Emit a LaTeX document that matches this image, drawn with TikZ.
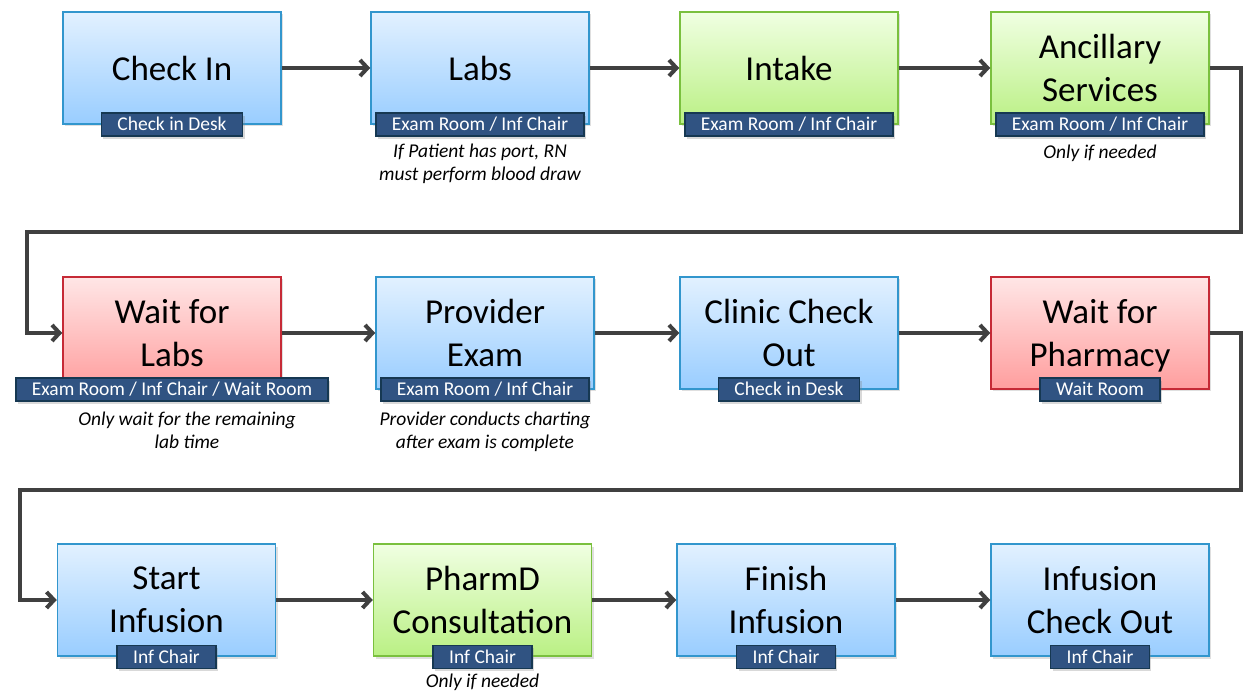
\documentclass[tikz,border=0pt]{standalone}
\usepackage{fontspec}
\setmainfont{Carlito}
\usetikzlibrary{arrows.meta,shadows,positioning,calc}
\definecolor{bluetop}{RGB}{226,241,255}
\definecolor{bluebot}{RGB}{153,205,255}
\definecolor{blueline}{RGB}{50,150,205}
\definecolor{greentop}{RGB}{240,255,226}
\definecolor{greenbot}{RGB}{186,240,132}
\definecolor{greenline}{RGB}{122,192,62}
\definecolor{redtop}{RGB}{255,230,230}
\definecolor{redbot}{RGB}{255,158,158}
\definecolor{redline}{RGB}{198,42,54}
\definecolor{tagfill}{RGB}{48,83,130}
\definecolor{tagline}{RGB}{22,56,82}
\definecolor{connc}{RGB}{64,64,64}
\begin{document}
\begin{tikzpicture}[x=1pt,y=-1pt,
  stepbase/.style={rectangle, minimum width=218pt, minimum height=112pt, line width=1.5pt,
    align=center, inner sep=0pt, font=\fontsize{35}{43}\selectfont,
    drop shadow={shadow xshift=2pt, shadow yshift=-2.5pt, opacity=0.25}},
  bluebox/.style={stepbase, draw=blueline, top color=bluetop, bottom color=bluebot},
  greenbox/.style={stepbase, draw=greenline, top color=greentop, bottom color=greenbot},
  redbox/.style={stepbase, draw=redline, top color=redtop, bottom color=redbot},
  tagbox/.style={rectangle, fill=tagfill, draw=tagline, line width=1.5pt, text=white,
    minimum height=23pt, inner xsep=16pt, inner ysep=0pt, text height=12.5pt, text depth=0pt,
    font=\fontsize{19.5}{22}\selectfont,
    drop shadow={shadow xshift=2pt, shadow yshift=-3pt, opacity=0.3}},
  notetext/.style={anchor=north, align=center, inner sep=0pt, font=\fontsize{19.5}{22.5}\selectfont\itshape},
  conn/.style={draw=connc, line width=4pt, -{Straight Barb[length=7.5pt,width=16pt]}}
]
\useasboundingbox (0,0) rectangle (1243,692);

% Row 1
\node[bluebox]  (checkin) at (172,68)  {Check In};
\node[bluebox]  (labs)    at (480,68)  {Labs};
\node[greenbox] (intake)  at (789,68)  {Intake};
\node[greenbox] (ancil)   at (1100,68) {Ancillary\\Services};
% Row 2
\node[redbox]   (wlabs)   at (172,333)  {Wait for\\Labs};
\node[bluebox]  (prov)    at (485,333)  {Provider\\Exam};
\node[bluebox]  (clinic)  at (789,333)  {Clinic Check\\Out};
\node[redbox]   (wpharm)  at (1100,333) {Wait for\\\smash{Pharmacy}};
% Row 3
\node[bluebox]  (start)   at (166.5,600) {Start\\Infusion};
\node[greenbox] (pharmd)  at (482.5,600) {PharmD\\Consultation};
\node[bluebox]  (finish)  at (786,600)   {Finish\\Infusion};
\node[bluebox]  (infco)   at (1100,600)  {Infusion\\Check Out};

% Tags
\node[tagbox] (checkinT) at (checkin.south) {Check in Desk};
\node[tagbox] (labsT)    at (labs.south)    {Exam Room / Inf Chair};
\node[tagbox] (intakeT)  at (intake.south)  {Exam Room / Inf Chair};
\node[tagbox] (ancilT)   at (ancil.south)   {Exam Room / Inf Chair};
\node[tagbox] (wlabsT)   at (wlabs.south)   {Exam Room / Inf Chair / Wait Room};
\node[tagbox] (provT)    at (prov.south)    {Exam Room / Inf Chair};
\node[tagbox] (clinicT)  at (clinic.south)  {Check in Desk};
\node[tagbox] (wpharmT)  at (wpharm.south)  {Wait Room};
\node[tagbox] (startT)   at (start.south)   {Inf Chair};
\node[tagbox] (pharmdT)  at (pharmd.south)  {Inf Chair};
\node[tagbox] (finishT)  at (finish.south)  {Inf Chair};
\node[tagbox] (infcoT)   at (infco.south)   {Inf Chair};

% Notes
\node[notetext] (labsN)   at ([yshift=-7pt]labsT.south) {If Patient has port, RN\\must perform blood draw};
\node[notetext] (ancilN)  at ([yshift=-8pt]ancilT.south) {Only if needed};
\node[notetext] (wlabsN)  at ([xshift=15pt,yshift=-10pt]wlabsT.south) {Only wait for the remaining\\lab time};
\node[notetext] (provN)   at ([yshift=-10pt]provT.south) {Provider conducts charting\\after exam is complete};
\node[notetext] (pharmdN) at ([yshift=-4.5pt]pharmdT.south) {Only if needed};

% Connectors
\coordinate (r1) at (1241,232);
\coordinate (l1) at (27,232);
\coordinate (r2) at (1241,490);
\coordinate (l2) at (20,490);

\draw[conn] (checkin) -- (labs);
\draw[conn] (labs) -- (intake);
\draw[conn] (intake) -- (ancil);
\draw[conn] (ancil.east) -| (r1) -- (l1) |- (wlabs.west);

\draw[conn] (wlabs) -- (prov);
\draw[conn] (prov) -- (clinic);
\draw[conn] (clinic) -- (wpharm);
\draw[conn] (wpharm.east) -| (r2) -- (l2) |- (start.west);

\draw[conn] (start) -- (pharmd);
\draw[conn] (pharmd) -- (finish);
\draw[conn] (finish) -- (infco);
\end{tikzpicture}
\end{document}
